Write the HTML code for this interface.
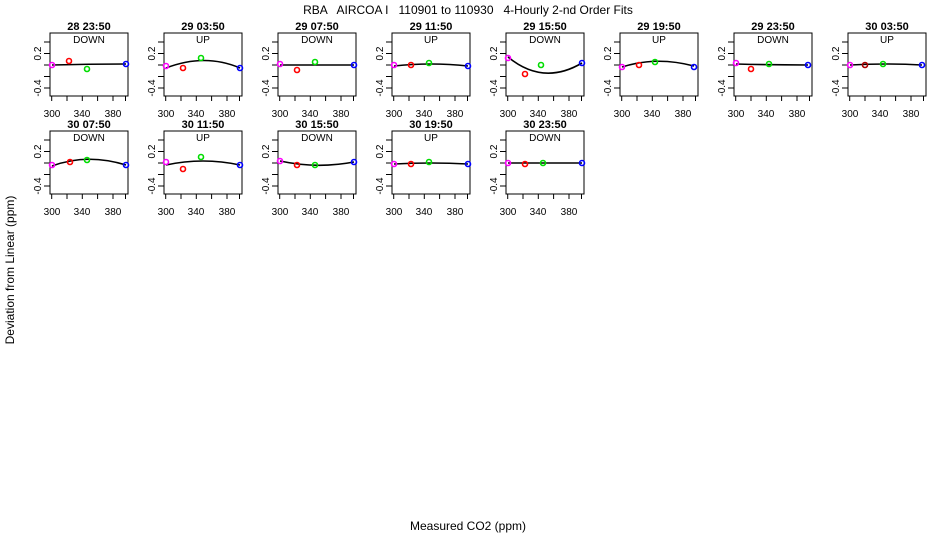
<!DOCTYPE html>
<html><head><style>
html,body{margin:0;padding:0;background:#fff}
svg{display:block}
text{font-family:"Liberation Sans",sans-serif;fill:#000}
.t{font-size:11px;font-weight:bold;text-anchor:middle}
.s{font-size:10px;text-anchor:middle}
.k{font-size:10px;text-anchor:middle}
.c{fill:none;stroke:#000;stroke-width:1.6}
.p{fill:none;stroke-width:1.6}
.pre{white-space:pre}
</style></head><body>
<svg width="936" height="540" viewBox="0 0 936 540">
<defs>
<g id="ax" fill="none" stroke="#000" stroke-width="1">
<rect x="0" y="0" width="78" height="63"/>
<path d="M0 9H-6M0 20.5H-6M0 32H-6M0 43.5H-6M0 55H-6M1.7 63V68M17 63V68M32.3 63V68M47.6 63V68M63 63V68M75.5 63V68"/>
</g>
</defs>
<text class="pre" x="468" y="14" font-size="12" text-anchor="middle" xml:space="preserve">RBA   AIRCOA I   110901 to 110930   4-Hourly 2-nd Order Fits</text>
<text transform="translate(14,270) rotate(-90)" font-size="12" text-anchor="middle">Deviation from Linear (ppm)</text>
<text x="468" y="530" font-size="12" text-anchor="middle">Measured CO2 (ppm)</text>

<g transform="translate(50,33)"><use href="#ax"/><text class="t" x="39" y="-3">28 23:50</text><text class="s" x="39" y="10">DOWN</text><text class="k" transform="translate(-9,20.5) rotate(-90)">0.2</text><text class="k" transform="translate(-9,55) rotate(-90)">-0.4</text><text class="k" x="2" y="84">300</text><text class="k" x="32" y="84">340</text><text class="k" x="63" y="84">380</text></g>
<g transform="translate(164,33)"><use href="#ax"/><text class="t" x="39" y="-3">29 03:50</text><text class="s" x="39" y="10">UP</text><text class="k" transform="translate(-9,20.5) rotate(-90)">0.2</text><text class="k" transform="translate(-9,55) rotate(-90)">-0.4</text><text class="k" x="2" y="84">300</text><text class="k" x="32" y="84">340</text><text class="k" x="63" y="84">380</text></g>
<g transform="translate(278,33)"><use href="#ax"/><text class="t" x="39" y="-3">29 07:50</text><text class="s" x="39" y="10">DOWN</text><text class="k" transform="translate(-9,20.5) rotate(-90)">0.2</text><text class="k" transform="translate(-9,55) rotate(-90)">-0.4</text><text class="k" x="2" y="84">300</text><text class="k" x="32" y="84">340</text><text class="k" x="63" y="84">380</text></g>
<g transform="translate(392,33)"><use href="#ax"/><text class="t" x="39" y="-3">29 11:50</text><text class="s" x="39" y="10">UP</text><text class="k" transform="translate(-9,20.5) rotate(-90)">0.2</text><text class="k" transform="translate(-9,55) rotate(-90)">-0.4</text><text class="k" x="2" y="84">300</text><text class="k" x="32" y="84">340</text><text class="k" x="63" y="84">380</text></g>
<g transform="translate(506,33)"><use href="#ax"/><text class="t" x="39" y="-3">29 15:50</text><text class="s" x="39" y="10">DOWN</text><text class="k" transform="translate(-9,20.5) rotate(-90)">0.2</text><text class="k" transform="translate(-9,55) rotate(-90)">-0.4</text><text class="k" x="2" y="84">300</text><text class="k" x="32" y="84">340</text><text class="k" x="63" y="84">380</text></g>
<g transform="translate(620,33)"><use href="#ax"/><text class="t" x="39" y="-3">29 19:50</text><text class="s" x="39" y="10">UP</text><text class="k" transform="translate(-9,20.5) rotate(-90)">0.2</text><text class="k" transform="translate(-9,55) rotate(-90)">-0.4</text><text class="k" x="2" y="84">300</text><text class="k" x="32" y="84">340</text><text class="k" x="63" y="84">380</text></g>
<g transform="translate(734,33)"><use href="#ax"/><text class="t" x="39" y="-3">29 23:50</text><text class="s" x="39" y="10">DOWN</text><text class="k" transform="translate(-9,20.5) rotate(-90)">0.2</text><text class="k" transform="translate(-9,55) rotate(-90)">-0.4</text><text class="k" x="2" y="84">300</text><text class="k" x="32" y="84">340</text><text class="k" x="63" y="84">380</text></g>
<g transform="translate(848,33)"><use href="#ax"/><text class="t" x="39" y="-3">30 03:50</text><text class="s" x="39" y="10">UP</text><text class="k" transform="translate(-9,20.5) rotate(-90)">0.2</text><text class="k" transform="translate(-9,55) rotate(-90)">-0.4</text><text class="k" x="2" y="84">300</text><text class="k" x="32" y="84">340</text><text class="k" x="63" y="84">380</text></g>
<g transform="translate(50,131)"><use href="#ax"/><text class="t" x="39" y="-3">30 07:50</text><text class="s" x="39" y="10">DOWN</text><text class="k" transform="translate(-9,20.5) rotate(-90)">0.2</text><text class="k" transform="translate(-9,55) rotate(-90)">-0.4</text><text class="k" x="2" y="84">300</text><text class="k" x="32" y="84">340</text><text class="k" x="63" y="84">380</text></g>
<g transform="translate(164,131)"><use href="#ax"/><text class="t" x="39" y="-3">30 11:50</text><text class="s" x="39" y="10">UP</text><text class="k" transform="translate(-9,20.5) rotate(-90)">0.2</text><text class="k" transform="translate(-9,55) rotate(-90)">-0.4</text><text class="k" x="2" y="84">300</text><text class="k" x="32" y="84">340</text><text class="k" x="63" y="84">380</text></g>
<g transform="translate(278,131)"><use href="#ax"/><text class="t" x="39" y="-3">30 15:50</text><text class="s" x="39" y="10">DOWN</text><text class="k" transform="translate(-9,20.5) rotate(-90)">0.2</text><text class="k" transform="translate(-9,55) rotate(-90)">-0.4</text><text class="k" x="2" y="84">300</text><text class="k" x="32" y="84">340</text><text class="k" x="63" y="84">380</text></g>
<g transform="translate(392,131)"><use href="#ax"/><text class="t" x="39" y="-3">30 19:50</text><text class="s" x="39" y="10">UP</text><text class="k" transform="translate(-9,20.5) rotate(-90)">0.2</text><text class="k" transform="translate(-9,55) rotate(-90)">-0.4</text><text class="k" x="2" y="84">300</text><text class="k" x="32" y="84">340</text><text class="k" x="63" y="84">380</text></g>
<g transform="translate(506,131)"><use href="#ax"/><text class="t" x="39" y="-3">30 23:50</text><text class="s" x="39" y="10">DOWN</text><text class="k" transform="translate(-9,20.5) rotate(-90)">0.2</text><text class="k" transform="translate(-9,55) rotate(-90)">-0.4</text><text class="k" x="2" y="84">300</text><text class="k" x="32" y="84">340</text><text class="k" x="63" y="84">380</text></g>

<g class="c">
<path d="M52 65Q89 64 126 64"/>
<path d="M166 68Q205 53 240 68"/>
<path d="M280 65Q317 65 354 65"/>
<path d="M394 66Q431 62 468 66"/>
<path d="M508 57Q543 86 582 63"/>
<path d="M622 67Q656 56 694 66"/>
<path d="M736 64Q772 65 808 65"/>
<path d="M850 65Q886 63 922 65"/>
<path d="M52 166Q87 153 126 165"/>
<path d="M166 165Q203 157 240 165"/>
<path d="M280 161Q317 169 354 162"/>
<path d="M394 164Q431 162 468 164"/>
<path d="M508 163Q545 163 582 163"/>
</g>
<g class="p">
<circle cx="52" cy="65" r="2.5" stroke="#f0f"/><circle cx="69" cy="61" r="2.5" stroke="#f00"/><circle cx="87" cy="69" r="2.5" stroke="#0d0"/><circle cx="126" cy="64" r="2.5" stroke="#00f"/>
<circle cx="166" cy="66" r="2.5" stroke="#f0f"/><circle cx="183" cy="68" r="2.5" stroke="#f00"/><circle cx="201" cy="58" r="2.5" stroke="#0d0"/><circle cx="240" cy="68" r="2.5" stroke="#00f"/>
<circle cx="280" cy="64" r="2.5" stroke="#f0f"/><circle cx="297" cy="70" r="2.5" stroke="#f00"/><circle cx="315" cy="62" r="2.5" stroke="#0d0"/><circle cx="354" cy="65" r="2.5" stroke="#00f"/>
<circle cx="394" cy="65" r="2.5" stroke="#f0f"/><circle cx="411" cy="65" r="2.5" stroke="#f00"/><circle cx="429" cy="63" r="2.5" stroke="#0d0"/><circle cx="468" cy="66" r="2.5" stroke="#00f"/>
<circle cx="508" cy="58" r="2.5" stroke="#f0f"/><circle cx="525" cy="74" r="2.5" stroke="#f00"/><circle cx="541" cy="65" r="2.5" stroke="#0d0"/><circle cx="582" cy="63" r="2.5" stroke="#00f"/>
<circle cx="622" cy="67" r="2.5" stroke="#f0f"/><circle cx="639" cy="65" r="2.5" stroke="#f00"/><circle cx="655" cy="62" r="2.5" stroke="#0d0"/><circle cx="694" cy="67" r="2.5" stroke="#00f"/>
<circle cx="736" cy="63" r="2.5" stroke="#f0f"/><circle cx="751" cy="69" r="2.5" stroke="#f00"/><circle cx="769" cy="64" r="2.5" stroke="#0d0"/><circle cx="808" cy="65" r="2.5" stroke="#00f"/>
<circle cx="850" cy="65" r="2.5" stroke="#f0f"/><circle cx="865" cy="65" r="2.5" stroke="#a00"/><circle cx="883" cy="64" r="2.5" stroke="#0d0"/><circle cx="922" cy="65" r="2.5" stroke="#00f"/>
<circle cx="52" cy="165" r="2.5" stroke="#f0f"/><circle cx="70" cy="162" r="2.5" stroke="#f00"/><circle cx="87" cy="160" r="2.5" stroke="#0d0"/><circle cx="126" cy="165" r="2.5" stroke="#00f"/>
<circle cx="166" cy="162" r="2.5" stroke="#f0f"/><circle cx="183" cy="169" r="2.5" stroke="#f00"/><circle cx="201" cy="157" r="2.5" stroke="#0d0"/><circle cx="240" cy="165" r="2.5" stroke="#00f"/>
<circle cx="280" cy="161" r="2.5" stroke="#f0f"/><circle cx="297" cy="165" r="2.5" stroke="#f00"/><circle cx="315" cy="165" r="2.5" stroke="#0d0"/><circle cx="354" cy="162" r="2.5" stroke="#00f"/>
<circle cx="394" cy="164" r="2.5" stroke="#f0f"/><circle cx="411" cy="164" r="2.5" stroke="#f00"/><circle cx="429" cy="162" r="2.5" stroke="#0d0"/><circle cx="468" cy="164" r="2.5" stroke="#00f"/>
<circle cx="508" cy="163" r="2.5" stroke="#f0f"/><circle cx="525" cy="164" r="2.5" stroke="#f00"/><circle cx="543" cy="163" r="2.5" stroke="#0d0"/><circle cx="582" cy="163" r="2.5" stroke="#00f"/>
</g>
</svg>
</body></html>
